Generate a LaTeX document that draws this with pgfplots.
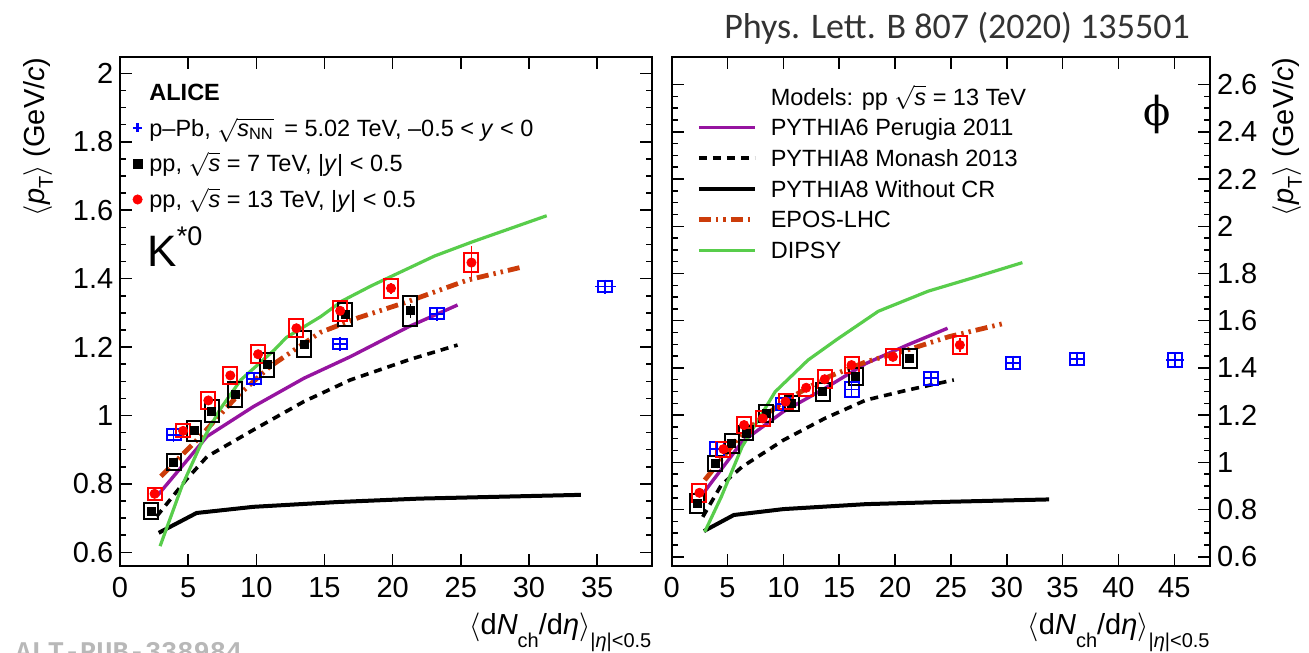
\documentclass[border=0pt]{standalone}
\usepackage{pgfplots}
\pgfplotsset{compat=1.18}
\usepackage{pgfplotstable}
\usepackage{fontspec}
\setmainfont{Liberation Sans}
\newfontfamily\titlefont{Carlito}
\newfontfamily\monofont{Liberation Mono}
\newfontfamily\phifont{DejaVu Serif}

\definecolor{p6purple}{RGB}{150,20,160}
\definecolor{eposred}{RGB}{204,60,10}
\definecolor{dipsygreen}{RGB}{88,205,75}

% systematic-uncertainty box: fixed width, half-height \sysh (in pt)
\pgfdeclareplotmark{sysbox}{%
  \pgfpathrectangle{\pgfpoint{-3.5pt}{-\sysh*1pt}}{\pgfpoint{7pt}{2*\sysh*1pt}}%
  \pgfusepathqstroke}

\newcommand\legfont{\fontsize{11.75pt}{14pt}\selectfont}
\newcommand\labfont{\fontsize{14.5pt}{17pt}\selectfont}
\newcommand\subfont{\fontsize{10pt}{10pt}\selectfont}

\pgfplotsset{
  panel/.style={
    scale only axis, anchor=south west, height=254.5pt,
    axis line style={line width=1pt},
    tick align=inside, xtick pos=both, ytick pos=both, xticklabel pos=lower,
    major tick length=6pt, minor tick length=3pt,
    tick style={line width=0.75pt, black},
    minor y tick num=3,
    /pgf/number format/assume math mode=true,
    ticklabel style={font=\labfont},
    xticklabel style={inner sep=0pt, yshift=-5.5pt},
    label style={font=\labfont},
    xlabel style={at={(axis description cs:1,0)}, anchor=base east, inner sep=0pt, yshift=-34pt},
    legend cell align=left,
  },
  markleg/.style={legend image code/.code={\path[draw=none, fill=none] (-3pt,-3pt) rectangle (3pt,3pt); \draw[##1] plot coordinates {(0pt,1.2pt)};}},
  lineleg/.style={legend image code/.code={\draw[##1] (0pt,1.2pt) -- (28pt,1.2pt);}},
  pythia6/.style={p6purple, line width=1.7pt},
  monash/.style={black, line width=1.8pt, dash pattern=on 4pt off 3pt},
  nocr/.style={black, line width=2pt},
  epos/.style={eposred, line width=2.4pt, dash pattern=on 6pt off 2.5pt on 1.2pt off 2.5pt on 1.2pt off 2.5pt},
  dipsy/.style={dipsygreen, line width=1.6pt},
  boxes/.style={only marks, mark=sysbox, scatter, scatter/use mapped color={draw=#1, fill=none}, mark options={line width=1pt}, forget plot},
}

% ---------- K*0 ----------
\pgfplotstableread{
x y s e ex
2.54 0.771 0.018 0.005 0
4.63 0.955 0.019 0.006 0
6.48 1.044 0.024 0.007 0
8.09 1.117 0.024 0.008 0
10.13 1.179 0.027 0.009 0
12.94 1.255 0.026 0.010 0
16.15 1.306 0.029 0.012 0
19.88 1.372 0.028 0.016 0
25.78 1.447 0.029 0.048 0
}\kred
\pgfplotstableread{
x y s e ex
2.29 0.720 0.023 0.005 0
3.93 0.864 0.024 0.006 0
5.46 0.955 0.029 0.006 0
6.73 1.012 0.032 0.007 0
8.46 1.062 0.036 0.008 0
10.78 1.148 0.035 0.008 0
13.49 1.209 0.039 0.010 0
16.52 1.295 0.034 0.012 0
21.30 1.306 0.043 0.020 0
}\kblack
\pgfplotstableread{
x y s e ex
3.93 0.944 0.016 0.004 0
9.81 1.107 0.016 0.004 0
16.15 1.209 0.016 0.005 0
23.24 1.297 0.016 0.006 0
35.60 1.377 0.015 0.008 0.75
}\kblue

% ---------- phi ----------
\pgfplotstableread{
x y s e ex
2.48 0.871 0.038 0.005 0
4.63 1.056 0.032 0.006 0
6.48 1.158 0.035 0.007 0
8.15 1.186 0.032 0.008 0
10.19 1.257 0.032 0.009 0
12.04 1.316 0.035 0.010 0
13.70 1.352 0.039 0.011 0
16.10 1.412 0.035 0.012 0
19.81 1.447 0.035 0.014 0
25.80 1.497 0.037 0.030 0
}\pred
\pgfplotstableread{
x y s e ex
2.30 0.826 0.040 0.005 0
3.89 0.996 0.032 0.006 0
5.37 1.080 0.039 0.006 0
6.67 1.123 0.030 0.007 0
8.44 1.208 0.035 0.008 0
10.74 1.250 0.032 0.009 0
13.52 1.299 0.039 0.010 0
16.48 1.363 0.037 0.012 0
21.30 1.440 0.039 0.016 0
}\pblack
\pgfplotstableread{
x y s e ex
4.07 1.056 0.030 0.005 0
9.93 1.247 0.025 0.005 0
16.10 1.309 0.032 0.006 0
23.20 1.356 0.028 0.006 0
30.56 1.422 0.025 0.006 0
36.30 1.439 0.026 0.007 0
45.10 1.433 0.030 0.008 0.8
}\pblue

\begin{document}
\begin{tikzpicture}
\useasboundingbox (0,0) rectangle (654.5pt,326pt);

% ================= left panel: K*0 =================
\begin{axis}[panel,
  at={(60pt,43pt)}, width=265.85pt,
  xmin=0, xmax=39, ymin=0.56, ymax=2.048,
  xtick={0,5,10,15,20,25,30,35},
  ytick={0.6,0.8,1,1.2,1.4,1.6,1.8,2},
  yticklabel style={inner sep=0pt, xshift=-3.2pt},
  xlabel={$\langle$d\textit{N}\raisebox{-6.5pt}{\subfont ch}/d\textit{η}$\rangle$\raisebox{-6.5pt}{\subfont |\textit{η}|<0.5}},
  ylabel={$\langle$\textit{p}\raisebox{-4pt}{\subfont T}$\rangle$ (GeV/\textit{c})},
  ylabel style={at={(axis description cs:-0.154,1)}, anchor=east, inner sep=0pt},
  legend style={at={(axis description cs:0.0218,0.9505)}, anchor=north west,
    draw=none, fill=none, inner sep=0pt, outer sep=0pt,
    row sep=5.95pt, column sep=2.9pt, font=\legfont,
    nodes={inner sep=0pt, text height=9pt, text depth=3pt}},
]
\addlegendimage{empty legend}\addlegendentry{\textbf{ALICE}}
\addlegendimage{markleg, blue, mark=+, mark size=2.3pt, line width=1.1pt}
\addlegendentry{p–Pb, $\sqrt{\mbox{\textit{s}\textsubscript{NN}}}$\, = 5.02 TeV, –0.5 < \textit{y} < 0}
\addlegendimage{markleg, black, mark=square*, mark size=2.2pt}
\addlegendentry{pp, $\sqrt{\mbox{\textit{s}}}$ = 7 TeV, |\textit{y}| < 0.5}
\addlegendimage{markleg, red, mark=*, mark size=2.3pt}
\addlegendentry{pp, $\sqrt{\mbox{\textit{s}}}$ = 13 TeV, |\textit{y}| < 0.5}

% data: systematic boxes, then points with statistical bars
\addplot[boxes=blue, visualization depends on={171.03*\thisrow{s} \as \sysh}] table[x=x,y=y] {\kblue};
\addplot[boxes=black, visualization depends on={171.03*\thisrow{s} \as \sysh}] table[x=x,y=y] {\kblack};
\addplot[boxes=red, visualization depends on={171.03*\thisrow{s} \as \sysh}] table[x=x,y=y] {\kred};
\addplot[only marks, blue, mark=+, mark size=3.5pt, mark options={line width=0.9pt}, forget plot,
  error bars/.cd, x dir=both, x explicit, error mark=none, error bar style={line width=0.9pt}]
  table[x=x,y=y,x error=ex] {\kblue};
\addplot[only marks, black, mark=square*, mark size=2pt, forget plot,
  error bars/.cd, y dir=both, y explicit, error mark=none, error bar style={line width=0.8pt}]
  table[x=x,y=y,y error=e] {\kblack};
\addplot[only marks, red, mark=*, mark size=2.3pt, forget plot,
  error bars/.cd, y dir=both, y explicit, error mark=none, error bar style={line width=0.8pt}]
  table[x=x,y=y,y error=e] {\kred};

% models, pp 13 TeV
\addplot[pythia6, forget plot] coordinates {(2.75,0.766) (6.39,0.939) (9.79,1.026) (13.5,1.109) (16.9,1.172) (21.2,1.260) (24.76,1.323)};
\addplot[monash, forget plot] coordinates {(2.69,0.705) (4.85,0.812) (6.39,0.880) (9.79,0.958) (13.5,1.041) (16.9,1.104) (21.2,1.163) (24.76,1.206)};
\addplot[nocr, forget plot] coordinates {(2.84,0.657) (5.62,0.715) (9.79,0.733) (15.96,0.747) (21.95,0.757) (33.8,0.768)};
\addplot[epos, forget plot] coordinates {(3.0,0.822) (5.78,0.934) (8.56,1.055) (11.0,1.143) (13.5,1.211) (14.7,1.243) (17.5,1.286) (20.9,1.330) (25.5,1.396) (29.5,1.434)};
\addplot[dipsy, forget plot] coordinates {(2.94,0.618) (4.54,0.793) (6.08,0.929) (7.32,1.017) (8.86,1.104) (11.33,1.192) (12.2,1.228) (14.72,1.289) (16.3,1.335) (18.43,1.379) (23.06,1.466) (25.8,1.507) (31.3,1.584)};

\node[anchor=base west, inner sep=0pt, font=\fontsize{22pt}{24pt}\selectfont]
  at (axis description cs:0.0508,0.588) {K\raisebox{10.5pt}{\fontsize{13.5pt}{14pt}\selectfont *0}};
\end{axis}

% ================= right panel: phi =================
\begin{axis}[panel,
  at={(335.85pt,43pt)}, width=269.15pt,
  xmin=0, xmax=48.2, ymin=0.561, ymax=2.717,
  xtick={0,5,10,15,20,25,30,35,40,45},
  ytick={0.6,0.8,1,1.2,1.4,1.6,1.8,2,2.2,2.4,2.6},
  yticklabel pos=right,
  yticklabel style={inner sep=0pt, xshift=3.3pt},
  xlabel={$\langle$d\textit{N}\raisebox{-6.5pt}{\subfont ch}/d\textit{η}$\rangle$\raisebox{-6.5pt}{\subfont |\textit{η}|<0.5}},
  ylabel={$\langle$\textit{p}\raisebox{-4pt}{\subfont T}$\rangle$ (GeV/\textit{c})},
  ylabel style={at={(axis description cs:1.143,1)}, anchor=east, inner sep=0pt},
  legend style={at={(axis description cs:0.0459,0.9407)}, anchor=north west,
    draw=none, fill=none, inner sep=0pt, outer sep=0pt,
    row sep=3.35pt, column sep=6.8pt, font=\legfont,
    nodes={inner sep=0pt, text height=9pt, text depth=3pt}},
]
\addlegendimage{empty legend}\addlegendentry{Models: pp $\sqrt{\mbox{\textit{s}}}$ = 13 TeV}
\addlegendimage{lineleg, pythia6}\addlegendentry{PYTHIA6 Perugia 2011}
\addlegendimage{lineleg, monash}\addlegendentry{PYTHIA8 Monash 2013}
\addlegendimage{lineleg, nocr}\addlegendentry{PYTHIA8 Without CR}
\addlegendimage{lineleg, epos}\addlegendentry{EPOS-LHC}
\addlegendimage{lineleg, dipsy}\addlegendentry{DIPSY}

\addplot[boxes=blue, visualization depends on={118.04*\thisrow{s} \as \sysh}] table[x=x,y=y] {\pblue};
\addplot[boxes=black, visualization depends on={118.04*\thisrow{s} \as \sysh}] table[x=x,y=y] {\pblack};
\addplot[boxes=red, visualization depends on={118.04*\thisrow{s} \as \sysh}] table[x=x,y=y] {\pred};
\addplot[only marks, blue, mark=+, mark size=3.5pt, mark options={line width=0.9pt}, forget plot,
  error bars/.cd, x dir=both, x explicit, error mark=none, error bar style={line width=0.9pt}]
  table[x=x,y=y,x error=ex] {\pblue};
\addplot[only marks, black, mark=square*, mark size=2pt, forget plot,
  error bars/.cd, y dir=both, y explicit, error mark=none, error bar style={line width=0.8pt}]
  table[x=x,y=y,y error=e] {\pblack};
\addplot[only marks, red, mark=*, mark size=2.3pt, forget plot,
  error bars/.cd, y dir=both, y explicit, error mark=none, error bar style={line width=0.8pt}]
  table[x=x,y=y,y error=e] {\pred};

\addplot[pythia6, forget plot] coordinates {(2.78,0.866) (6.3,1.087) (10.0,1.215) (13.7,1.313) (17.4,1.419) (21.1,1.497) (24.7,1.568)};
\addplot[monash, forget plot] coordinates {(2.78,0.769) (4.44,0.904) (6.3,0.981) (10.0,1.094) (13.7,1.186) (17.4,1.264) (21.1,1.306) (25.26,1.349)};
\addplot[nocr, forget plot] coordinates {(2.89,0.709) (5.56,0.777) (10.0,0.802) (17.4,0.823) (24.8,0.833) (33.8,0.843)};
\addplot[epos, forget plot] coordinates {(2.96,0.925) (6.3,1.123) (10.0,1.257) (13.7,1.356) (17.4,1.426) (21.1,1.476) (24.8,1.532) (29.8,1.589)};
\addplot[dipsy, forget plot] coordinates {(2.96,0.706) (4.44,0.854) (6.3,1.066) (9.26,1.299) (12.2,1.433) (14.8,1.521) (18.5,1.640) (22.96,1.725) (27.0,1.782) (31.4,1.846)};

\node[inner sep=0pt, font=\phifont\fontsize{20pt}{20pt}\selectfont]
  at (axis description cs:0.901,0.888) {ϕ};
\end{axis}

\node[anchor=base, inner sep=0pt, text=black!80, font=\titlefont\fontsize{18pt}{20pt}\selectfont]
  at (478.5pt,306.9pt) {Phys. Lett. B 807 (2020) 135501};
\node[anchor=base west, inner sep=0pt, text=black!28, font=\monofont\bfseries\fontsize{13.5pt}{14pt}\selectfont]
  at (7.5pt,-4pt) {ALT-PUB-338984};
\end{tikzpicture}
\end{document}
